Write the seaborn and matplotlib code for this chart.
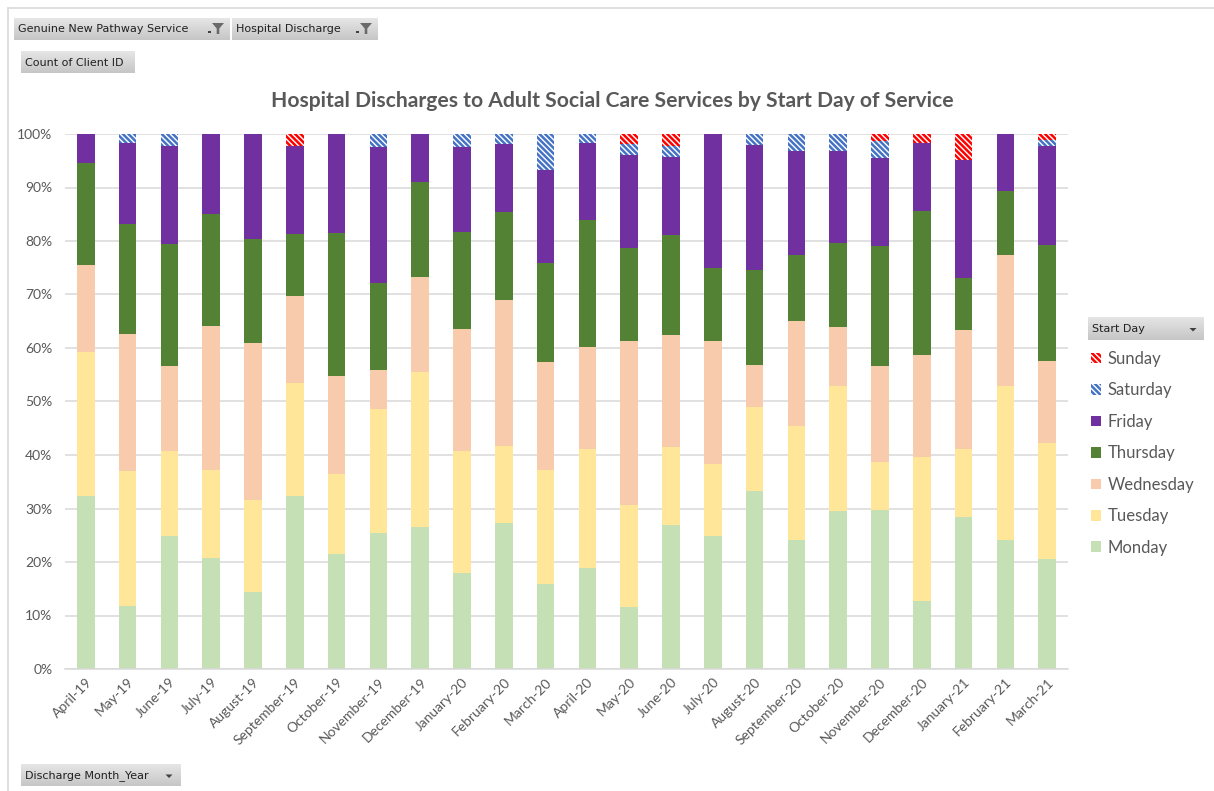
import numpy as np
import pandas as pd
import matplotlib
matplotlib.use("Agg")
import matplotlib.pyplot as plt
import seaborn as sns
from matplotlib.patches import Rectangle, Polygon, Patch
from matplotlib.lines import Line2D
from matplotlib.ticker import PercentFormatter, MultipleLocator

# ---------------- data (share of clients by start day, %) ----------------
months = ["April-19", "May-19", "June-19", "July-19", "August-19", "September-19",
          "October-19", "November-19", "December-19", "January-20", "February-20",
          "March-20", "April-20", "May-20", "June-20", "July-20", "August-20",
          "September-20", "October-20", "November-20", "December-20", "January-21",
          "February-21", "March-21"]

monday = [32.4, 11.8, 24.9, 20.8, 14.4, 32.4, 21.5, 25.4, 26.6, 18.0, 27.2, 15.8,
          18.9, 11.5, 26.9, 24.9, 33.3, 24.1, 29.6, 29.7, 12.7, 28.4, 24.1, 20.6]
tuesday = [26.9, 25.3, 15.9, 16.4, 17.2, 21.0, 15.0, 23.2, 28.9, 22.7, 14.5, 21.4,
           22.2, 19.1, 14.6, 13.4, 15.7, 21.3, 23.3, 9.0, 26.9, 12.7, 28.8, 21.6]
wednesday = [16.3, 25.5, 15.9, 26.9, 29.4, 16.3, 18.3, 7.2, 17.7, 22.9, 27.2, 20.1,
             19.1, 30.8, 20.9, 23.1, 7.8, 19.7, 11.0, 17.9, 19.0, 22.3, 24.4, 15.3]
thursday = [19.0, 20.5, 22.7, 20.9, 19.4, 11.7, 26.7, 16.3, 17.8, 18.1, 16.5, 18.6,
            23.8, 17.2, 18.8, 13.5, 17.7, 12.2, 15.8, 22.5, 27.1, 9.6, 12.1, 21.8]
friday = [5.4, 15.2, 18.3, 15.0, 19.6, 16.3, 18.5, 25.5, 9.0, 15.9, 12.7, 17.4,
          14.4, 17.5, 14.5, 25.1, 23.4, 19.6, 17.1, 16.4, 12.7, 22.1, 10.6, 18.5]
saturday = [0.0, 1.7, 2.3, 0.0, 0.0, 0.0, 0.0, 2.4, 0.0, 2.4, 1.9, 6.7,
            1.6, 2.0, 2.1, 0.0, 2.1, 3.1, 3.2, 3.1, 0.0, 0.0, 0.0, 1.1]
sunday = [0.0, 0.0, 0.0, 0.0, 0.0, 2.3, 0.0, 0.0, 0.0, 0.0, 0.0, 0.0,
          0.0, 1.9, 2.2, 0.0, 0.0, 0.0, 0.0, 1.4, 1.6, 4.9, 0.0, 1.1]

days = ["Monday", "Tuesday", "Wednesday", "Thursday", "Friday", "Saturday", "Sunday"]
series = [monday, tuesday, wednesday, thursday, friday, saturday, sunday]

# ---------------- styles ----------------
day_colors = {"Monday": "#C5E0B4", "Tuesday": "#FFE699", "Wednesday": "#F8CBAD",
              "Thursday": "#548235", "Friday": "#7030A0",
              "Saturday": "#4472C4", "Sunday": "#FF0000"}
hatched = {"Saturday", "Sunday"}
HATCH = "\\" * 6

W, H = 1214, 791
TXT = "#595959"

sns.set_theme(style="white")
plt.rcParams["font.family"] = ["Lato", "DejaVu Sans"]
plt.rcParams["hatch.linewidth"] = 1.8

vals = np.array(series, dtype=float)
shares = vals / vals.sum(axis=0)
df = pd.DataFrame({"month": np.tile(months, len(days)),
                   "day": np.repeat(days, len(months)),
                   "share": shares.ravel()})

fig = plt.figure(figsize=(W / 100, H / 100), dpi=100)
fig.patch.set_facecolor("white")

ax_l, ax_r, ax_t, ax_b = 65, 1068, 134, 669
ax = fig.add_axes([ax_l / W, 1 - ax_b / H, (ax_r - ax_l) / W, (ax_b - ax_t) / H])

bottom = np.zeros(len(months))
for day in days:
    sub = df[df["day"] == day].set_index("month").loc[months].reset_index()
    sns.barplot(data=sub, x="month", y="share", order=months, bottom=bottom.copy(),
                color=day_colors[day], saturation=1, width=0.42, errorbar=None,
                ax=ax, label=day)
    cont = ax.containers[-1]
    for p in cont:
        if day in hatched:
            p.set_facecolor("white")
            p.set_edgecolor(day_colors[day])
            p.set_hatch(HATCH)
            p.set_linewidth(0)
        else:
            p.set_facecolor(day_colors[day])
            p.set_edgecolor("none")
            p.set_linewidth(0)
    bottom = bottom + sub["share"].values

if ax.get_legend() is not None:
    ax.get_legend().remove()

ax.set_xlim(-0.5, len(months) - 0.5)
ax.set_ylim(0, 1)
ax.yaxis.set_major_locator(MultipleLocator(0.1))
ax.yaxis.set_major_formatter(PercentFormatter(1, decimals=0))
ax.set_xlabel("")
ax.set_ylabel("")
ax.set_axisbelow(True)
ax.yaxis.grid(True, color="#D9D9D9", linewidth=1.1)
ax.xaxis.grid(False)
for s in ["left", "right", "top"]:
    ax.spines[s].set_visible(False)
ax.spines["bottom"].set_color("#D9D9D9")
ax.spines["bottom"].set_linewidth(1.1)
ax.tick_params(axis="y", length=0, pad=9, labelsize=10, labelcolor=TXT)
ax.tick_params(axis="x", length=0, pad=5, labelsize=10, labelcolor=TXT)
for lab in ax.get_xticklabels():
    lab.set_rotation(45)
    lab.set_ha("right")
    lab.set_rotation_mode("anchor")

# title
fig.text(612 / W, 1 - 101 / H,
         "Hospital Discharges to Adult Social Care Services by Start Day of Service",
         ha="center", va="center", fontsize=15.2, fontweight="bold", color=TXT)

# legend
handles = []
for day in reversed(days):
    if day in hatched:
        handles.append(Patch(facecolor="white", edgecolor=day_colors[day],
                             hatch=HATCH, linewidth=0, label=day))
    else:
        handles.append(Patch(facecolor=day_colors[day], edgecolor="none", label=day))
leg = fig.legend(handles=handles, loc="upper left",
                 bbox_to_anchor=(1084 / W, 1 - 344 / H), frameon=False,
                 fontsize=12, labelcolor=TXT, handlelength=0.6, handleheight=0.6,
                 handletextpad=0.4, labelspacing=0.93, borderaxespad=0)

# ---------------- Excel pivot-chart field buttons ----------------
grad = np.linspace(0, 1, 32).reshape(-1, 1)
gcmap = matplotlib.colors.LinearSegmentedColormap.from_list("g", ["#E6E6E6", "#C6C6C6"])

def button(x0, y0, x1, y1, text, arrow=False, funnel=False):
    bax = fig.add_axes([x0 / W, 1 - y1 / H, (x1 - x0) / W, (y1 - y0) / H])
    bax.imshow(grad, aspect="auto", cmap=gcmap, extent=(0, 1, 0, 1), origin="upper")
    bax.set_xlim(0, 1)
    bax.set_ylim(0, 1)
    bax.axis("off")
    fig.text((x0 + 4) / W, 1 - ((y0 + y1) / 2 + 0.5) / H, text, ha="left", va="center",
             fontsize=8.0, family=["DejaVu Sans"], color="#202020", zorder=5)
    if arrow:
        ax_x = x1 - 11
        cy = (y0 + y1) / 2 + 1
        tri = Polygon([((ax_x - 3.5) / W, 1 - (cy - 1.5) / H),
                       ((ax_x + 3.5) / W, 1 - (cy - 1.5) / H),
                       (ax_x / W, 1 - (cy + 2) / H)],
                      closed=True, transform=fig.transFigure, facecolor="#404040",
                      edgecolor="none", zorder=6)
        fig.patches.append(tri)
    if funnel:
        fx0 = x1 - 18
        fy0 = y0 + 5
        pts = [(fx0, fy0), (fx0 + 12, fy0), (fx0 + 7.3, fy0 + 5.5),
               (fx0 + 7.3, fy0 + 11), (fx0 + 4.7, fy0 + 11), (fx0 + 4.7, fy0 + 5.5)]
        fun = Polygon([(px / W, 1 - py / H) for px, py in pts], closed=True,
                      transform=fig.transFigure, facecolor="#6A6A6A",
                      edgecolor="none", zorder=6)
        fig.patches.append(fun)
        dot = Rectangle(((fx0 - 4) / W, 1 - (fy0 + 10) / H), 2.5 / W, 2 / H,
                        transform=fig.transFigure, facecolor="#404040",
                        edgecolor="none", zorder=6)
        fig.patches.append(dot)

button(14, 18, 230, 40, "Genuine New Pathway Service", funnel=True)
button(232, 18, 378, 40, "Hospital Discharge", funnel=True)
button(21, 51, 135, 73, "Count of Client ID")
button(21, 764, 180, 786, "Discharge Month_Year", arrow=True)
button(1088, 317, 1204, 340, "Start Day", arrow=True)

# chart-area border (top and left edges)
fig.add_artist(Line2D([8 / W, 1], [1 - 7.5 / H, 1 - 7.5 / H], transform=fig.transFigure,
                      color="#D9D9D9", linewidth=1.2))
fig.add_artist(Line2D([8 / W, 8 / W], [0, 1 - 7.5 / H], transform=fig.transFigure,
                      color="#D9D9D9", linewidth=1.2))

fig.savefig("out.png", dpi=100, facecolor="white")
